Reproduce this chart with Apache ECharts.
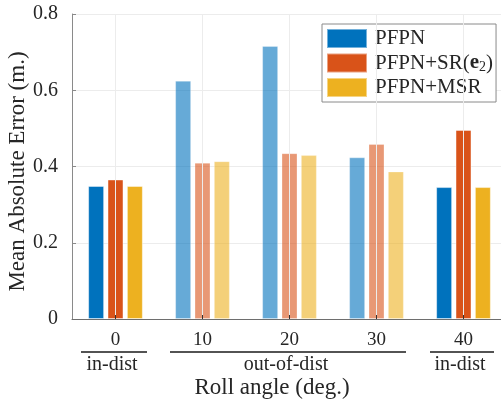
<!DOCTYPE html>
<html>
<head>
<meta charset="utf-8">
<script src="https://cdn.jsdelivr.net/npm/echarts@6/dist/echarts.min.js"></script>
<style>
  html, body { margin: 0; padding: 0; background: #fff; }
  #main { width: 501px; height: 404px; }
</style>
</head>
<body>
<div id="main"></div>
<script>
// roll angles (deg.)
var categories = ['0', '10', '20', '30', '40'];
// mean absolute error (m.)
var pfpn = [0.349, 0.625, 0.716, 0.424, 0.346];
var pfpnSr = [0.366, 0.410, 0.435, 0.459, 0.496];
var pfpnMsr = [0.349, 0.414, 0.430, 0.387, 0.346];
// out-of-dist angles are drawn faded
var faded = [false, true, true, true, false];
var yTicks = [0, 0.2, 0.4, 0.6, 0.8];

var font = 'Liberation Serif';
var ink = '#262626';
var chart = echarts.init(document.getElementById('main'));

function bars(name, values, color) {
  return {
    name: name,
    type: 'bar',
    barWidth: 16,
    barGap: '21%',
    itemStyle: { color: color, borderColor: 'rgba(255,255,255,0.45)', borderWidth: 1 },
    data: values.map(function (v, i) {
      return faded[i] ? { value: v, itemStyle: { opacity: 0.6 } } : v;
    })
  };
}

chart.setOption({
  animation: false,
  textStyle: { fontFamily: font },
  // plot runs past the right edge of the picture
  grid: { left: 72, top: 14, width: 435, height: 305, outerBoundsMode: 'none', containLabel: false },
  legend: {
    orient: 'vertical',
    left: 322,
    top: 24,
    padding: [4, 3, 4, 4],
    itemWidth: 40,
    itemHeight: 19,
    itemGap: 3,
    icon: 'rect',
    backgroundColor: '#fff',
    borderColor: '#8a8a8a',
    borderWidth: 1,
    textStyle: {
      fontFamily: font, fontSize: 21, color: ink, lineHeight: 19, padding: [0, 0, 0, 3],
      rich: {
        n: { fontFamily: font, fontSize: 21, color: ink, lineHeight: 19 },
        b: { fontFamily: font, fontSize: 21, fontWeight: 'bold', color: ink, lineHeight: 19 },
        s: { fontFamily: font, fontSize: 14, color: ink, lineHeight: 19, padding: [8, 0, 0, 0] }
      }
    },
    formatter: function (name) {
      if (name === 'PFPN+SR(e2)') return '{n|PFPN+SR(}{b|e}{s|2}{n|)}';
      return name;
    },
    data: ['PFPN', 'PFPN+SR(e2)', 'PFPN+MSR']
  },
  xAxis: {
    type: 'category',
    data: categories,
    z: 5,
    name: 'Roll angle (deg.)',
    nameLocation: 'middle',
    nameGap: 57,
    nameMoveOverlap: false,
    nameTextStyle: { fontFamily: font, fontSize: 23, color: ink, padding: [0, 35, 0, 0] },
    axisLine: { lineStyle: { color: '#6e6e6e', width: 1 } },
    axisTick: { show: true, inside: true, alignWithLabel: true, length: 4, lineStyle: { color: '#333' } },
    axisLabel: { fontFamily: font, fontSize: 19, color: ink, margin: 12 },
    splitLine: { show: true, alignWithLabel: true, lineStyle: { color: '#ececec', width: 1 } }
  },
  yAxis: {
    type: 'value',
    min: yTicks[0],
    max: yTicks[yTicks.length - 1],
    interval: 0.2,
    name: 'Mean Absolute Error (m.)',
    nameLocation: 'middle',
    nameGap: 43,
    nameMoveOverlap: false,
    nameTextStyle: { fontFamily: font, fontSize: 23, color: ink, padding: [0, 10, 0, 0] },
    axisLine: { show: true, lineStyle: { color: '#8a8a8a', width: 1 } },
    axisTick: { show: true, inside: true, length: 4, lineStyle: { color: '#8a8a8a' } },
    axisLabel: { fontFamily: font, fontSize: 20, color: ink, margin: 14 },
    splitLine: { show: true, lineStyle: { color: '#ececec', width: 1 } }
  },
  graphic: [
    { type: 'line', shape: { x1: 81, y1: 352, x2: 147, y2: 352 }, style: { stroke: '#1a1a1a', lineWidth: 1.5 } },
    { type: 'line', shape: { x1: 170, y1: 352, x2: 406, y2: 352 }, style: { stroke: '#1a1a1a', lineWidth: 1.5 } },
    { type: 'line', shape: { x1: 430, y1: 352, x2: 494, y2: 352 }, style: { stroke: '#1a1a1a', lineWidth: 1.5 } },
    { type: 'text', x: 112, y: 365, style: { text: 'in-dist', font: '20px "Liberation Serif"', fill: ink, textAlign: 'center', textVerticalAlign: 'middle' } },
    { type: 'text', x: 286, y: 365, style: { text: 'out-of-dist', font: '20px "Liberation Serif"', fill: ink, textAlign: 'center', textVerticalAlign: 'middle' } },
    { type: 'text', x: 460, y: 365, style: { text: 'in-dist', font: '20px "Liberation Serif"', fill: ink, textAlign: 'center', textVerticalAlign: 'middle' } }
  ],
  series: [
    bars('PFPN', pfpn, '#0072BD'),
    bars('PFPN+SR(e2)', pfpnSr, '#D95319'),
    bars('PFPN+MSR', pfpnMsr, '#EDB120')
  ]
});
</script>
</body>
</html>
